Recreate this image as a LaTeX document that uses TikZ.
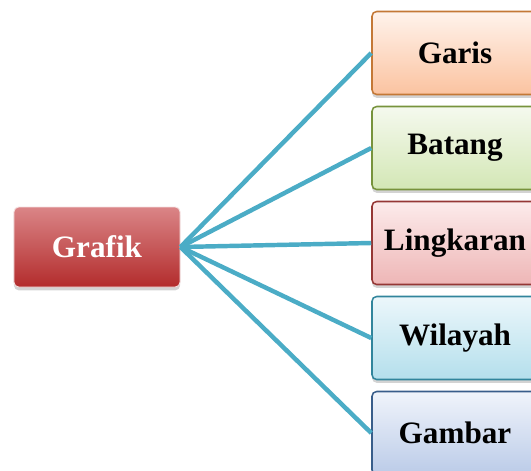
\documentclass[tikz,border=0pt]{standalone}
\usepackage{fontspec}
\setmainfont{Liberation Serif}
\usetikzlibrary{positioning, shadows}

\begin{document}
\begin{tikzpicture}[
    x=0.03cm, y=-0.03cm,
    every node/.style={font=\fontsize{26.6}{30}\selectfont\bfseries},
    box/.style={rounded corners=4pt, line width=1.3pt, inner sep=0pt,
        minimum width=4.98cm, minimum height=2.49cm,
        drop shadow={opacity=0.35, shadow xshift=0pt, shadow yshift=-0.1cm}},
    link/.style={draw=linkcolor, line width=3.8pt},
]

% ---------------------------------------------------------------- colours
\definecolor{linkcolor}{HTML}{4BACC6}
\definecolor{g1}{HTML}{DA8587}   % the root, top
\definecolor{g2}{HTML}{B32C2C}   % the root, bottom
\definecolor{c1d}{HTML}{C47836} \definecolor{c1a}{HTML}{FFF3EC} \definecolor{c1b}{HTML}{FBC3A0}
\definecolor{c2d}{HTML}{77933C} \definecolor{c2a}{HTML}{F5F9EE} \definecolor{c2b}{HTML}{D3E7B5}
\definecolor{c3d}{HTML}{953735} \definecolor{c3a}{HTML}{FCEBEB} \definecolor{c3b}{HTML}{EEB6B6}
\definecolor{c4d}{HTML}{31859C} \definecolor{c4a}{HTML}{ECF7FB} \definecolor{c4b}{HTML}{B4DFEC}
\definecolor{c5d}{HTML}{385D8A} \definecolor{c5a}{HTML}{F0F4FB} \definecolor{c5b}{HTML}{BBCBE8}

% ================================================================
% Units are pixels of the 531 x 470 frame, y pointing down.
%   root    centre (97, 247)
%   leaves  x = 455, rows y = 53, 148, 243, 338, 433
% ================================================================

\useasboundingbox (0,0) rectangle (531,470);

\node[box, minimum height=2.4cm, draw=white!85!g2, line width=0.8pt,
      top color=g1, bottom color=g2, text=white] (grafik) at (97,247) {Grafik};

% name / text / y / colour
\foreach \n/\t/\y/\c in {%
    garis/Garis/53/c1,
    batang/Batang/148/c2,
    lingkaran/Lingkaran/243/c3,
    wilayah/Wilayah/338/c4,
    gambar/Gambar/433/c5%
} {
    \node[box, draw=\c d, top color=\c a, bottom color=\c b] (\n) at (455,\y) {\t};
    \draw[link] (grafik.east) -- (\n.west);
}

\end{tikzpicture}
\end{document}
